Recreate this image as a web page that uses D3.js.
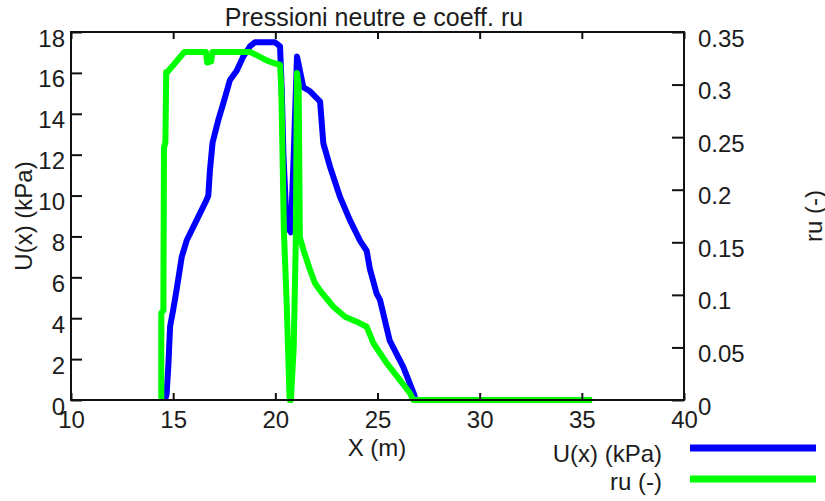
<!DOCTYPE html>
<html>
<head>
<meta charset="utf-8">
<script src="https://cdn.jsdelivr.net/npm/d3@7"></script>
<style>
  html, body { margin: 0; padding: 0; background: #fff; }
  svg { display: block; }
  text { font-family: "Liberation Sans", Arial, sans-serif; font-size: 24px; fill: #1c1c1c; }
</style>
</head>
<body>
<svg id="chart" width="825" height="501"></svg>
<script>
// Pore pressure U(x) along the slip surface abscissa X (m)
const uX   = [14.6, 14.68, 14.76, 14.85, 15.0, 15.17, 15.42, 15.66, 16.15, 16.64, 16.72, 16.8, 16.93,
              17.21, 17.45, 17.78, 18.11, 18.43, 18.76, 19.0, 19.98, 20.23, 20.31, 20.4, 20.56,
              20.76, 20.9, 21.06, 21.37, 21.7, 22.19, 22.35, 22.68, 23.16, 23.65, 24.14, 24.47,
              24.63, 24.96, 25.12, 25.6, 26.27, 26.8, 26.85, 35.5];
const uVal = [0, 0.3, 1.6, 3.6, 4.4, 5.4, 7.0, 7.8, 8.8, 9.8, 10.0, 11.25, 12.6,
              13.7, 14.5, 15.65, 16.1, 16.8, 17.3, 17.5, 17.5, 17.3, 15.3, 11.9, 8.5,
              8.2, 12.0, 16.8, 15.3, 15.1, 14.6, 12.55, 11.4, 9.95, 8.8, 7.8, 7.3,
              6.4, 5.2, 4.9, 2.9, 1.6, 0.25, 0, 0];

// Pore pressure ratio ru
const ruX   = [14.42, 14.42, 14.52, 14.55, 14.62, 14.66, 14.72, 15.55, 16.6, 16.66, 16.86, 16.92, 18.76,
               19.08, 19.57, 19.98, 20.23, 20.28, 20.3, 20.42, 20.55, 20.7, 20.76, 20.9, 21.0,
               21.06, 21.14, 21.2, 21.37, 21.7, 21.94, 22.27, 22.84, 23.41, 23.98, 24.47, 24.8,
               25.45, 26.1, 26.59, 26.75, 35.5];
const ruVal = [0, 0.083, 0.085, 0.24, 0.245, 0.312, 0.312, 0.331, 0.331, 0.321, 0.322, 0.331, 0.331,
               0.328, 0.323, 0.32, 0.319, 0.30, 0.288, 0.16, 0.095, 0.0, 0.0, 0.05, 0.15,
               0.311, 0.30, 0.155, 0.143, 0.1236, 0.111, 0.102, 0.0887, 0.0792, 0.0745, 0.0697, 0.054,
               0.035, 0.019, 0.0064, 0, 0];

const xTicks  = [10, 15, 20, 25, 30, 35, 40];
const uTicks  = [0, 2, 4, 6, 8, 10, 12, 14, 16, 18];
const ruTicks = [0, 0.05, 0.1, 0.15, 0.2, 0.25, 0.3, 0.35];
const ruTickLabels = ["0", "0.05", "0.1", "0.15", "0.2", "0.25", "0.3", "0.35"];

const titleText = "Pressioni neutre e coeff. ru";
const xTitle = "X (m)";
const uTitle = "U(x) (kPa)";
const ruTitle = "ru (-)";

const blue = "#0000ff", green = "#00ff00", ink = "#111";

const svg = d3.select("#chart");
const plot = { left: 71, right: 684, top: 32, bottom: 400 };

const x  = d3.scaleLinear().domain([10, 40]).range([plot.left, plot.right]);
const yU = d3.scaleLinear().domain([0, 18]).range([plot.bottom, plot.top]);
const yR = d3.scaleLinear().domain([0, 0.35]).range([plot.bottom, plot.top]);

// Title
svg.append("text").attr("x", 374).attr("y", 26).attr("text-anchor", "middle")
  .style("font-size", "25px").text(titleText);

// Series: U(x) underneath, ru drawn over it
const uLine = d3.line().x((d, i) => x(uX[i])).y(d => yU(d));
const rLine = d3.line().x((d, i) => x(ruX[i])).y(d => yR(d));

svg.append("path").datum(uVal).attr("d", uLine)
  .attr("fill", "none").attr("stroke", blue).attr("stroke-width", 6).attr("stroke-linejoin", "round");
svg.append("path").datum(ruVal).attr("d", rLine)
  .attr("fill", "none").attr("stroke", green).attr("stroke-width", 6).attr("stroke-linejoin", "round");

// Axes with inward ticks
function styleAxis(g) {
  g.select(".domain").remove();
  g.selectAll(".tick line").attr("stroke", ink).attr("stroke-width", 2);
  g.selectAll(".tick text").attr("fill", "#1c1c1c").style("font-size", "24px")
    .style("font-family", "'Liberation Sans', Arial, sans-serif");
}

const gB = svg.append("g").attr("transform", `translate(0,${plot.bottom})`)
  .call(d3.axisBottom(x).tickValues(xTicks).tickSizeInner(-7).tickSizeOuter(0).tickFormat(d3.format("d")));
styleAxis(gB);
gB.selectAll(".tick text").attr("y", 28).attr("dy", null);

const gT = svg.append("g").attr("transform", `translate(0,${plot.top})`)
  .call(d3.axisTop(x).tickValues(xTicks).tickSizeInner(-7).tickSizeOuter(0).tickFormat(""));
styleAxis(gT);

const gL = svg.append("g").attr("transform", `translate(${plot.left},0)`)
  .call(d3.axisLeft(yU).tickValues(uTicks).tickSizeInner(-11).tickSizeOuter(0).tickPadding(6).tickFormat(d3.format("d")));
styleAxis(gL);
gL.selectAll(".tick text").attr("dy", 14);

const gR = svg.append("g").attr("transform", `translate(${plot.right},0)`)
  .call(d3.axisRight(yR).tickValues(ruTicks).tickSizeInner(-12).tickSizeOuter(0).tickPadding(14)
    .tickFormat((d, i) => ruTickLabels[i]));
styleAxis(gR);
gR.selectAll(".tick text").attr("dy", 14);

// Frame
svg.append("rect")
  .attr("x", plot.left).attr("y", plot.top)
  .attr("width", plot.right - plot.left).attr("height", plot.bottom - plot.top)
  .attr("fill", "none").attr("stroke", ink).attr("stroke-width", 2);

// Axis titles
svg.append("text").attr("x", 377).attr("y", 456).attr("text-anchor", "middle").text(xTitle);
svg.append("text").attr("transform", `translate(32,216) rotate(-90)`).attr("text-anchor", "middle").text(uTitle);
svg.append("text").attr("transform", `translate(822,216) rotate(-90)`).attr("text-anchor", "middle").text(ruTitle);

// Legend
const legend = [
  { label: uTitle, color: blue, y: 448, ty: 462 },
  { label: ruTitle, color: green, y: 479, ty: 490 }
];
legend.forEach(l => {
  svg.append("text").attr("x", 662).attr("y", l.ty).attr("text-anchor", "end").text(l.label);
  svg.append("line").attr("x1", 690).attr("x2", 816).attr("y1", l.y).attr("y2", l.y)
    .attr("stroke", l.color).attr("stroke-width", 7);
});
</script>
</body>
</html>
